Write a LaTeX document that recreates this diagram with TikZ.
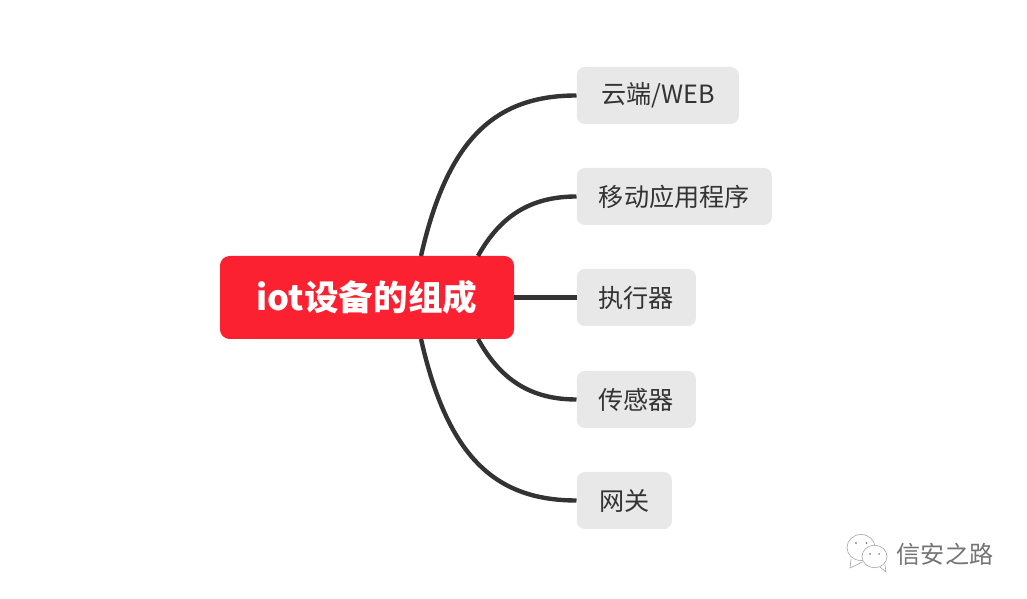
\documentclass[tikz,border=0pt]{standalone}
\usepackage{fontspec}
\setmainfont{Noto Sans CJK SC}
\usetikzlibrary{positioning,shapes,calc}
\definecolor{rootred}{RGB}{252,33,48}
\definecolor{leafgray}{RGB}{232,232,232}
\definecolor{linedark}{RGB}{51,51,51}
\tikzset{
  rootbox/.style={rectangle, rounded corners=5.5pt, fill=rootred, text=white, font=\fontsize{19.7pt}{23pt}\selectfont\bfseries, minimum width=5.88cm, minimum height=1.66cm, inner sep=0pt},
  leafbox/.style={rectangle, rounded corners=4.5pt, fill=leafgray, text=linedark, font=\fontsize{14.3pt}{17pt}\selectfont, minimum height=1.14cm, inner sep=0pt, anchor=west},
  branch/.style={draw=linedark, line width=2.5pt},
  bubble/.style={draw=black!35, fill=white, line width=0.35pt}
}
\begin{document}
\begin{tikzpicture}
\useasboundingbox (0,0) rectangle (20.54,11.98);
\fill[white] (0,0) rectangle (20.54,11.98);

% tree
\node[rootbox] (root) at (7.34,6.03) {iot设备的组成};
\node[leafbox, minimum width=3.24cm] (cloud) at (11.53,10.07) {云端/WEB};
\node[leafbox, minimum width=3.90cm] (app) at (11.53,8.05) {移动应用程序};
\node[leafbox, minimum width=2.38cm] (exec) at (11.53,6.03) {执行器};
\node[leafbox, minimum width=2.38cm] (sensor) at (11.53,3.99) {传感器};
\node[leafbox, minimum width=1.90cm] (gate) at (11.53,1.97) {网关};

\coordinate (upa) at (8.42,6.86);
\coordinate (upb) at (9.56,6.86);
\coordinate (downa) at (8.42,5.20);
\coordinate (downb) at (9.56,5.20);

\draw[branch] (upa) .. controls (8.95,9.2) and (9.9,10.07) .. (cloud.west);
\draw[branch] (upb) .. controls (10.0,7.65) and (10.6,8.05) .. (app.west);
\draw[branch] (root.east) -- (exec.west);
\draw[branch] (downb) .. controls (10.0,4.4) and (10.6,3.99) .. (sensor.west);
\draw[branch] (downa) .. controls (8.95,2.85) and (9.9,1.97) .. (gate.west);

% watermark
\draw[bubble] (17.02,0.8) -- (17.0,0.62) -- (17.25,0.74);
\node[bubble, ellipse, minimum width=0.56cm, minimum height=0.52cm, inner sep=0pt] (bubbleleft) at (17.22,1.03) {};
\draw[bubble] (17.6,0.64) -- (17.72,0.54) -- (17.7,0.68);
\node[bubble, ellipse, minimum width=0.5cm, minimum height=0.45cm, inner sep=0pt] (bubbleright) at (17.49,0.85) {};
\fill[black!45] (17.12,1.12) circle (0.022) (17.33,1.12) circle (0.022) (17.4,0.9) circle (0.02) (17.58,0.9) circle (0.02);
\node[text=black!55, font=\fontsize{13.7pt}{16pt}\selectfont] (mark) at (18.9,0.9) {信安之路};
\end{tikzpicture}
\end{document}
